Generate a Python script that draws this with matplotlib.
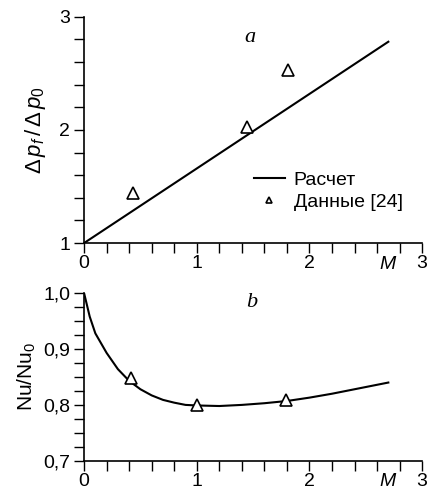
import numpy as np
import matplotlib
matplotlib.use('Agg')
import matplotlib.pyplot as plt
from matplotlib.ticker import MultipleLocator, FixedLocator

plt.rcParams['font.family'] = ['Liberation Sans', 'DejaVu Sans']
plt.rcParams['mathtext.fontset'] = 'custom'
plt.rcParams['mathtext.rm'] = 'Liberation Sans'
plt.rcParams['mathtext.it'] = 'Liberation Sans:italic'

# panel a: pressure drop ratio
calc_a_M = [0.0, 2.7]
calc_a_val = [1.0, 2.78]
data_a_M = [0.43, 1.45, 1.81]
data_a_val = [1.44, 2.03, 2.53]

# panel b: Nusselt ratio
calc_b_M = [0.0, 0.05, 0.1, 0.2, 0.3, 0.4, 0.5, 0.6, 0.7, 0.8, 0.9, 1.0,
            1.2, 1.4, 1.6, 1.8, 2.0, 2.2, 2.4, 2.7]
calc_b_val = [1.0, 0.958, 0.928, 0.893, 0.864, 0.843, 0.828, 0.817, 0.809,
              0.804, 0.800, 0.799, 0.798, 0.800, 0.803, 0.807, 0.813,
              0.820, 0.828, 0.840]
data_b_M = [0.42, 1.0, 1.79]
data_b_val = [0.848, 0.800, 0.808]

x_labels = ['0', '1', '2', '3']
legend_labels = ['Расчет', 'Данные [24]']

fig = plt.figure(figsize=(4.29, 4.96), dpi=100)
ax1 = fig.add_axes([0.196, 0.510, 0.788, 0.456])
ax2 = fig.add_axes([0.196, 0.071, 0.788, 0.338])


def style(ax):
    for s in ['top', 'right']:
        ax.spines[s].set_visible(False)
    for s in ['left', 'bottom']:
        ax.spines[s].set_linewidth(1.2)
    ax.set_xlim(0, 3)
    ax.xaxis.set_major_locator(FixedLocator([0, 1, 2, 3]))
    ax.set_xticklabels(x_labels)
    ax.xaxis.set_minor_locator(MultipleLocator(0.2))
    ax.tick_params(which='both', direction='out', length=7, width=1.0,
                   labelsize=14, pad=1.5)
    ax.tick_params(axis='y', pad=3)
    ax.annotate('$M$', xy=(2.7, 0), xycoords=('data', 'axes fraction'),
                xytext=(0, -9), textcoords='offset points',
                ha='center', va='top', fontsize=14)


style(ax1)
ax1.set_ylim(1, 3)
ax1.yaxis.set_major_locator(FixedLocator([1, 2, 3]))
ax1.yaxis.set_minor_locator(MultipleLocator(0.2))
ax1.plot(calc_a_M, calc_a_val, color='black', lw=1.5, label=legend_labels[0])
ax1.plot(data_a_M, data_a_val, linestyle='none', marker='^', ms=8,
         mfc='white', mec='black', mew=1.2, label=legend_labels[1])
ax1.set_ylabel(r'$\Delta\,p_f\,/\,\Delta\,p_0$', fontsize=16, labelpad=8)
ax1.text(1.47, 2.82, 'a', fontsize=16, style='italic',
         family='Liberation Serif', ha='center', va='center')
leg = ax1.legend(loc='center left', bbox_to_anchor=(0.45, 0.23),
                 frameon=False, fontsize=14, handlelength=1.6,
                 handletextpad=0.45, labelspacing=0.25, markerscale=0.6)

style(ax2)
ax2.set_ylim(0.7, 1.0)
ax2.yaxis.set_major_locator(FixedLocator([0.7, 0.8, 0.9, 1.0]))
ax2.set_yticklabels(['0,7', '0,8', '0,9', '1,0'])
ax2.yaxis.set_minor_locator(MultipleLocator(0.025))
ax2.plot(calc_b_M, calc_b_val, color='black', lw=1.5)
ax2.plot(data_b_M, data_b_val, linestyle='none', marker='^', ms=8,
         mfc='white', mec='black', mew=1.2)
ax2.set_ylabel(r'$\mathrm{Nu/Nu_0}$', fontsize=15, labelpad=4)
ax2.text(1.49, 0.984, 'b', fontsize=16, style='italic',
         family='Liberation Serif', ha='center', va='center')

fig.savefig('out.png', dpi=100)
